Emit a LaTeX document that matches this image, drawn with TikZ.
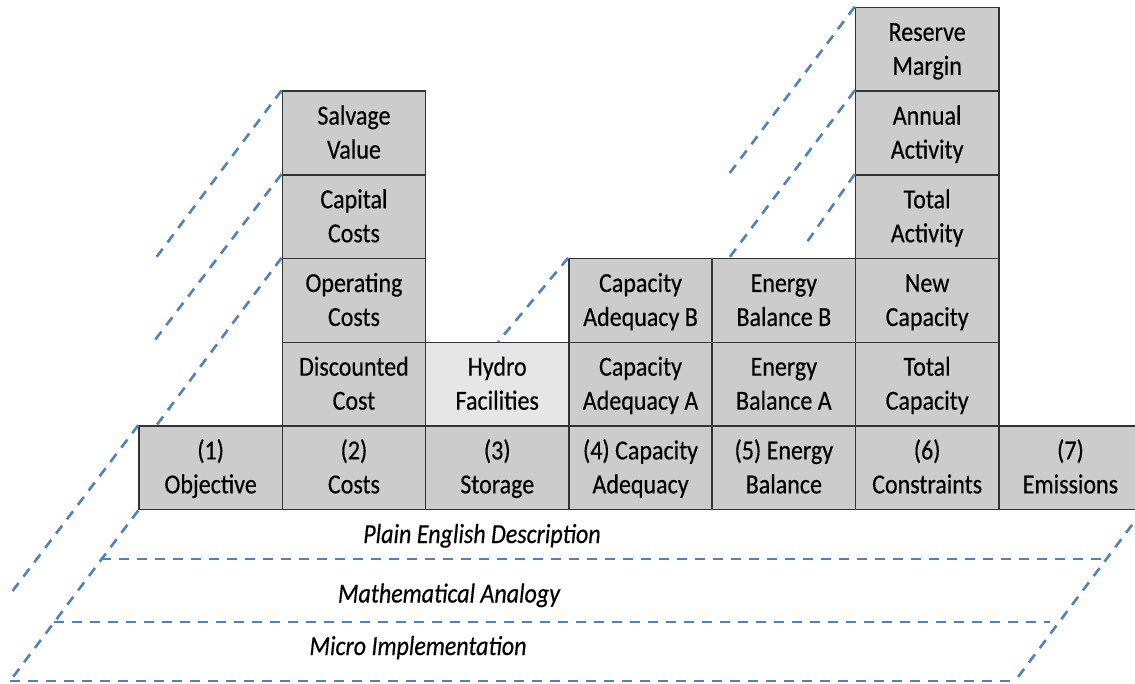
\documentclass[tikz,border=0pt]{standalone}
\usepackage{fontspec}
\setmainfont{Carlito}[FakeStretch=0.873, FakeBold=0.4]
\definecolor{cellgray}{HTML}{CCCCCC}
\definecolor{hydrogray}{HTML}{E6E6E6}
\definecolor{dashblue}{HTML}{4F81BD}
\definecolor{edgegray}{HTML}{333333}
\begin{document}
\begin{tikzpicture}[x=1pt,y=-1pt,
  cell/.style={draw=edgegray, line width=1.5pt, fill=cellgray, minimum width=143.3pt, minimum height=83.7pt,
    inner sep=0pt, align=center, font=\fontsize{27.5}{34}\selectfont, text=black,
    execute at begin node=\rule{0pt}{59pt}, execute at end node=\rule[-8pt]{0pt}{8pt}},
  lightcell/.style={cell, fill=hydrogray},
  layerline/.style={draw=dashblue, line width=2.6pt, dash pattern=on 10pt off 8pt},
  layerlabel/.style={font=\fontsize{27.5}{30}\selectfont\itshape, text=black, inner sep=0pt, anchor=base}]
\useasboundingbox (0,0) rectangle (1135,684);

% column centres
\def\ca{210.65}\def\cb{353.95}\def\cc{497.25}\def\cd{640.55}\def\ce{783.85}\def\cf{927.15}\def\cg{1070.45}
% row centres
\def\ra{467.85}\def\rb{384.15}\def\rc{300.45}\def\rd{216.75}\def\re{133.05}\def\rf{49.35}

% coordinates for free ends of dashed lines
\coordinate (l1e) at (155,259);
\coordinate (l2e) at (155,340);
\coordinate (l3e) at (156,426);
\coordinate (lbe) at (11,593);
\coordinate (lae) at (10,681);
\coordinate (lre) at (1015,681);
\coordinate (lme) at (498,342);
\coordinate (r1e) at (729,174);
\coordinate (r2e) at (729,258);
\coordinate (r3e) at (807,242);
\coordinate (h1a) at (101,559); \coordinate (h1b) at (1104,559);
\coordinate (h2a) at (54,622);  \coordinate (h2b) at (1050,622);
\coordinate (h3a) at (10,681);  \coordinate (h3b) at (1015,681);

% base row
\node[cell] (obj) at (\ca,\ra) {(1)\\Objective};
\node[cell] (cost) at (\cb,\ra) {(2)\\Costs};
\node[cell] (stor) at (\cc,\ra) {(3)\\Storage};
\node[cell] (capad) at (\cd,\ra) {(4) Capacity\\Adequacy};
\node[cell] (enbal) at (\ce,\ra) {(5) Energy\\Balance};
\node[cell] (cons) at (\cf,\ra) {(6)\\Constraints};
\node[cell] (emis) at (\cg,\ra) {(7)\\Emissions};

% dashed layer lines
\draw[layerline] (h1a) -- (h1b);
\draw[layerline] (h2a) -- (h2b);
\draw[layerline] (h3a) -- (h3b);
\draw[layerline] (obj.south west) -- (lae);
\draw[layerline] (obj.north west) -- (lbe);
\draw[layerline] (emis.south east) -- (lre);

% column 2 stack
\node[cell] (disc) at (\cb,\rb) {Discounted\\Cost};
\node[cell] (oper) at (\cb,\rc) {Operating\\Costs};
\node[cell] (capc) at (\cb,\rd) {Capital\\Costs};
\node[cell] (salv) at (\cb,\re) {Salvage\\Value};
% column 3
\node[lightcell] (hydro) at (\cc,\rb) {Hydro\\Facilities};
% column 4
\node[cell] (capa) at (\cd,\rb) {Capacity\\Adequacy A};
\node[cell] (capb) at (\cd,\rc) {Capacity\\Adequacy B};
% column 5
\node[cell] (ena) at (\ce,\rb) {Energy\\Balance A};
\node[cell] (enb) at (\ce,\rc) {Energy\\Balance B};
% column 6
\node[cell] (totc) at (\cf,\rb) {Total\\Capacity};
\node[cell] (newc) at (\cf,\rc) {New\\Capacity};
\node[cell] (tota) at (\cf,\rd) {Total\\Activity};
\node[cell] (anna) at (\cf,\re) {Annual\\Activity};
\node[cell] (resm) at (\cf,\rf) {Reserve\\Margin};

% depth lines
\draw[layerline] (salv.north west) -- (l1e);
\draw[layerline] (capc.north west) -- (l2e);
\draw[layerline] (oper.north west) -- (l3e);
\draw[layerline] (capb.north west) -- (lme);
\draw[layerline] (resm.north west) -- (r1e);
\draw[layerline] (anna.north west) -- (r2e);
\draw[layerline] (tota.north west) -- (r3e);

% layer labels
\node[layerlabel] (plain) at (482,543) {Plain English Description};
\node[layerlabel] (math) at (449,602.5) {Mathematical Analogy};
\node[layerlabel] (micro) at (418,655) {Micro Implementation};
\end{tikzpicture}
\end{document}
